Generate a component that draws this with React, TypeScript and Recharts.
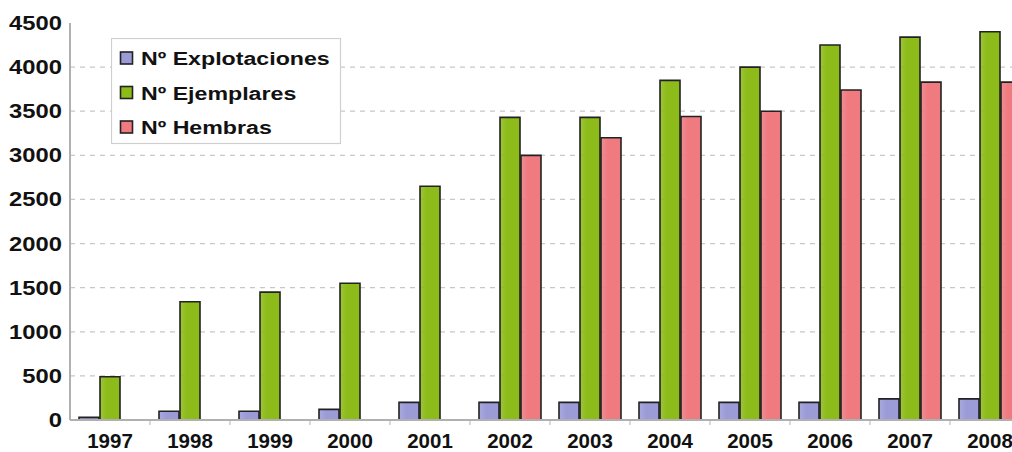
import React from 'react';
import { BarChart, Bar, XAxis, YAxis, CartesianGrid, Legend } from 'recharts';

const years = ['1997', '1998', '1999', '2000', '2001', '2002', '2003', '2004', '2005', '2006', '2007', '2008'];
const explotaciones = [30, 100, 100, 120, 200, 200, 200, 200, 200, 200, 240, 240];
const ejemplares = [490, 1340, 1450, 1550, 2650, 3430, 3430, 3850, 4000, 4250, 4340, 4400];
const hembras: (number | null)[] = [null, null, null, null, null, 3000, 3200, 3440, 3500, 3740, 3830, 3830];
const yTicks = [0, 500, 1000, 1500, 2000, 2500, 3000, 3500, 4000, 4500];

const seriesNames = ['Nº Explotaciones', 'Nº Ejemplares', 'Nº Hembras'];
const seriesColors = ['#9b9bd8', '#8cbb1a', '#ef7a7f'];

const data = years.map((year, i) => ({
  year,
  explotaciones: explotaciones[i],
  ejemplares: ejemplares[i],
  hembras: hembras[i],
}));

const FONT = '"Liberation Sans", Arial, sans-serif';

const YTick = (props: any) => {
  const { x, y, payload } = props;
  return (
    <g transform={`translate(${x},${y})`}>
      <text
        transform="scale(1.22,1)"
        textAnchor="end"
        dy={7}
        fontSize={19.5}
        fontWeight="bold"
        fontFamily={FONT}
        fill="#111"
      >
        {payload.value}
      </text>
    </g>
  );
};

// Category label plus a small tick mark on the left edge of each band.
const XTick = (props: any) => {
  const { x, y, payload } = props;
  const half = payload && payload.offset ? payload.offset : 0;
  return (
    <g>
      {half > 0 && payload.index > 0 && (
        <line x1={x - half} x2={x - half} y1={y + 1} y2={y + 5} stroke="#bdbdbd" strokeWidth={1.2} />
      )}
      <text
        x={x}
        y={y + 27.5}
        textAnchor="middle"
        fontSize={20.5}
        fontWeight="bold"
        fontFamily={FONT}
        fill="#111"
      >
        {payload.value}
      </text>
    </g>
  );
};

const LegendBox = () => (
  <svg width={231} height={107} style={{ display: 'block' }}>
    <rect x={0.5} y={0.5} width={229} height={105} fill="#fff" stroke="#cfcfcf" strokeWidth={1.2} />
    {seriesNames.map((name, i) => {
      const cy = 20 + i * 34.5;
      return (
        <g key={name}>
          <rect x={9.5} y={cy - 6} width={12} height={12} fill={seriesColors[i]} stroke="#222" strokeWidth={1.6} />
          <g transform={`translate(30,${cy + 7})`}>
            <text transform="scale(1.22,1)" fontSize={19} fontWeight="bold" fontFamily={FONT} fill="#111">
              {name}
            </text>
          </g>
        </g>
      );
    })}
  </svg>
);

export default function App() {
  return (
    <div
      style={{
        position: 'fixed',
        left: 0,
        top: 0,
        width: 1012,
        height: 452,
        overflow: 'hidden',
        background: '#fff',
      }}
    >
      <BarChart
        width={1040}
        height={452}
        data={data}
        margin={{ top: 23, right: 10, bottom: 0, left: 0 }}
        barSize={20}
        barGap={1}
      >
        <defs>
          {seriesColors.map((c, i) => (
            <linearGradient key={i} id={`grad${i}`} x1="0" y1="0" x2="1" y2="0">
              <stop offset="0%" stopColor={c} stopOpacity={0.85} />
              <stop offset="35%" stopColor={c} stopOpacity={1} />
              <stop offset="100%" stopColor={c} stopOpacity={1} />
            </linearGradient>
          ))}
        </defs>
        <CartesianGrid
          vertical={false}
          horizontalValues={[500, 1000, 1500, 2000, 2500, 3000, 3500, 4000]}
          stroke="#c8c8c8"
          strokeDasharray="5 5"
          strokeWidth={1.3}
        />
        <XAxis
          xAxisId="cat"
          dataKey="year"
          tick={<XTick />}
          tickLine={false}
          tickSize={0}
          tickMargin={0}
          axisLine={{ stroke: '#b0b0b0', strokeWidth: 2 }}
          height={32}
          interval={0}
        />
        <XAxis
          xAxisId="top"
          orientation="top"
          dataKey="year"
          tick={false}
          tickLine={false}
          axisLine={{ stroke: '#b8b8b8', strokeWidth: 2 }}
          height={0}
        />
        <YAxis
          domain={[0, 4500]}
          ticks={yTicks}
          interval={0}
          width={70}
          tick={<YTick />}
          tickLine={false}
          tickSize={0}
          tickMargin={8}
          axisLine={{ stroke: '#b0b0b0', strokeWidth: 2 }}
        />
        <Legend
          layout="vertical"
          align="center"
          verticalAlign="middle"
          content={<LegendBox />}
          wrapperStyle={{ left: 111, top: 38, width: 231, height: 107 }}
        />
        <Bar xAxisId="cat" dataKey="explotaciones" name={seriesNames[0]} fill="url(#grad0)" stroke="#222" strokeWidth={1.6} isAnimationActive={false} />
        <Bar xAxisId="cat" dataKey="ejemplares" name={seriesNames[1]} fill="url(#grad1)" stroke="#222" strokeWidth={1.6} isAnimationActive={false} />
        <Bar xAxisId="cat" dataKey="hembras" name={seriesNames[2]} fill="url(#grad2)" stroke="#222" strokeWidth={1.6} isAnimationActive={false} />
      </BarChart>
    </div>
  );
}
